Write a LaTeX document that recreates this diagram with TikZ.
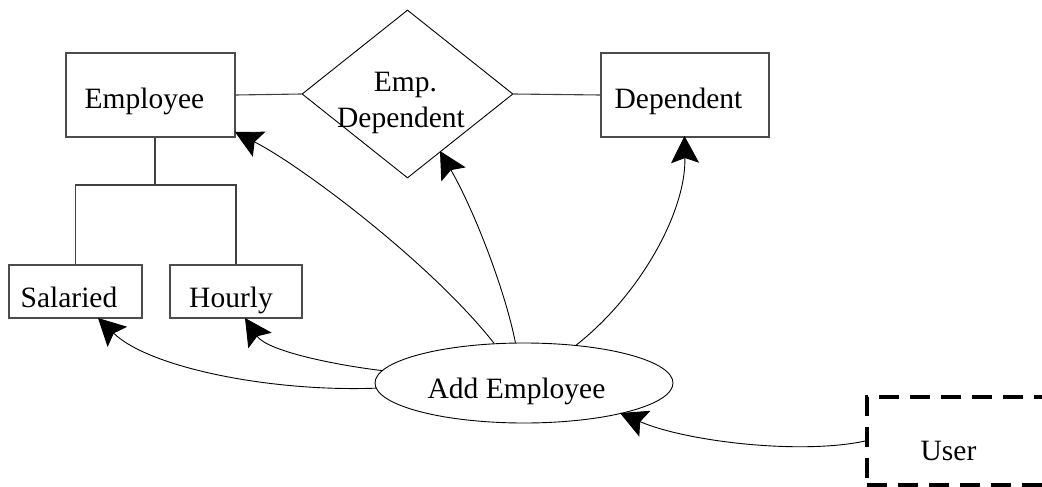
\documentclass[tikz,border=0pt]{standalone}
\usepackage{fontspec}
\setmainfont{Liberation Serif}
\usetikzlibrary{shapes.geometric,arrows.meta}

\tikzset{
  entity/.style={draw=black!70, line width=1.2pt, rectangle, inner sep=0pt},
  relation/.style={draw=black, line width=0.9pt, diamond, inner sep=0pt},
  usecase/.style={draw=black, line width=0.9pt, ellipse, inner sep=0pt,
                  minimum width=298pt, minimum height=80pt},
  actor/.style={draw=black, line width=3.3pt, dash pattern=on 20pt off 11pt,
                rectangle, inner sep=0pt},
  caption/.style={anchor=base, inner sep=0pt, font=\fontsize{29.5}{35}\selectfont},
  link/.style={draw=black!75, line width=1.1pt},
  flow/.style={draw=black, line width=0.9pt,
               -{Stealth[length=27pt, width=28pt, inset=5pt]}},
}

\begin{document}
\begin{tikzpicture}[x=1pt, y=1pt]
\useasboundingbox (0,0) rectangle (1042,-487);

% entities and relationship
\node[entity, minimum width=169pt, minimum height=84pt] (employee) at (150.5,-95) {};
\node[caption] (employee-text) at (144.5,-109) {Employee};

\node[relation, minimum width=211pt, minimum height=168pt] (empdep) at (407.5,-94) {};
\node[caption] (empdep-text1) at (405.5,-92) {Emp.};
\node[caption] (empdep-text2) at (401,-127) {Dependent};

\node[entity, minimum width=168pt, minimum height=84pt] (dependent) at (685,-95) {};
\node[caption] (dependent-text) at (678.5,-108) {Dependent};

\node[entity, minimum width=133pt, minimum height=53pt] (salaried) at (75.5,-291.5) {};
\node[caption] (salaried-text) at (69,-307) {Salaried};

\node[entity, minimum width=132pt, minimum height=53pt] (hourly) at (236,-291.5) {};
\node[caption] (hourly-text) at (231,-307) {Hourly};

% use case and actor
\node[usecase] (add) at (524,-383) {};
\node[caption] (add-text) at (516.5,-398) {Add Employee};

\node[actor, minimum width=220pt, minimum height=88pt] (user) at (977,-441) {};
\node[caption] (user-text) at (948.5,-460) {User};

% ER connections
\draw[link] (employee.east) -- (empdep.west);
\draw[link] (empdep.east) -- (dependent.west);
\coordinate (bar) at (155,-185);
\draw[link] (employee.south -| bar) -- (bar);
\draw[link] (salaried.north) |- (bar) -| (hourly.north);

% use case arrows
\coordinate (employee-tip) at (235,-132);
\coordinate (empdep-tip) at (440,-151);
\coordinate (dependent-tip) at (684.5,-136);
\coordinate (hourly-tip) at (245,-318);
\coordinate (salaried-tip) at (98,-318);
\coordinate (add-in) at (620,-413);

\draw[flow] (add.127.4) .. controls (430,-262) and (300,-165) .. (employee-tip);
\draw[flow] (add.102.7) .. controls (505,-290) and (474,-210) .. (empdep-tip);
\draw[flow] (add.36.4) .. controls (640,-295) and (686,-212) .. (dependent-tip);
\draw[flow] (add.175) .. controls (335,-365) and (267,-351) .. (hourly-tip);
\draw[flow] (add.182.7) .. controls (270,-392) and (149,-367.5) .. (salaried-tip);
\draw[flow] (user.west) .. controls (800,-455) and (686,-441.5) .. (add-in);
\end{tikzpicture}
\end{document}
